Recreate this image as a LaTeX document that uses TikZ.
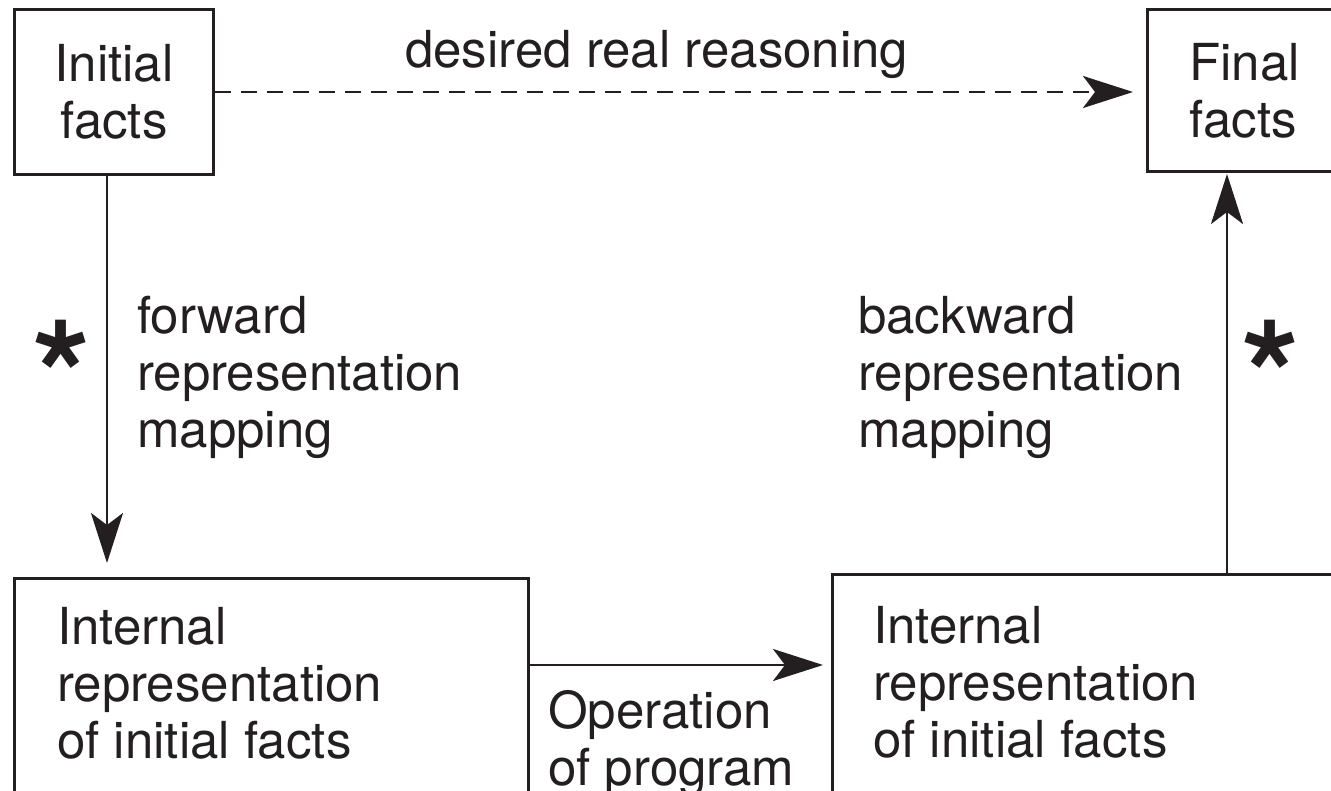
\documentclass[tikz,border=0pt]{standalone}
\usepackage{fontspec}
\setmainfont{TeX Gyre Heros}
\usetikzlibrary{arrows.meta}
\definecolor{ink}{HTML}{231F20}
\begin{document}
\begin{tikzpicture}[x=1pt,y=-1pt,
  boxline/.style={draw=ink, line width=3pt, inner sep=0pt},
  lbl/.style={font=\fontsize{51}{57}\selectfont, text=ink, inner sep=0pt, align=left},
  starlbl/.style={font=\fontsize{150}{150}\bfseries, text=ink, inner sep=0pt},
  tip/.style={-{Stealth[length=50pt,width=32pt,inset=12pt]}},
  conn/.style={draw=ink, line width=2.6pt, tip},
  dashconn/.style={draw=ink, line width=2.6pt, dash pattern=on 16pt off 10pt, tip}]
\useasboundingbox (0,0) rectangle (1331,791);
\clip (0,0) rectangle (1331,791);
\fill[white] (0,0) rectangle (1331,791);

% helper coordinates
\coordinate (lx) at (107,0);
\coordinate (fx) at (1227,0);
\coordinate (hy) at (0,665);

% boxes
\node[boxline, lbl, align=center, minimum width=199, minimum height=165, anchor=north west] (init) at (13,8) {Initial\\facts};
\node[boxline, lbl, anchor=north west, text width=130, inner xsep=42, inner ysep=0, minimum height=162] (final) at (1146,8) {Final\\facts};
\node[boxline, minimum width=514, minimum height=260, anchor=north west] (irl) at (13,577) {};
\node[boxline, minimum width=530, minimum height=260, anchor=north west] (irr) at (831,573) {};

% box texts
\node[lbl, anchor=north west] (irlt) at (57,607) {Internal\\representation\\of initial facts};
\node[lbl, anchor=north west] (irrt) at (873,606) {Internal\\representation\\of initial facts};

% labels
\node[lbl, anchor=base west] (des) at (405,68) {desired real reasoning};
\node[lbl, anchor=north west] (fwd) at (137,296) {forward\\representation\\mapping};
\node[lbl, anchor=north west] (bwd) at (858,296) {backward\\representation\\mapping};
\node[lbl, anchor=north west] (op) at (548,690) {Operation\\of program};
\node[starlbl, anchor=north] (s1) at (62,320) {*};
\node[starlbl, anchor=north] (s2) at (1271,320) {*};

% connectors
\draw[dashconn, shorten >=13pt] (init.east) -- (init.east -| final.west);
\draw[conn, shorten >=14pt] (init.south -| lx) -- (irl.north -| lx);
\draw[conn, shorten >=1pt] (irr.north -| fx) -- (final.south -| fx);
\draw[conn, shorten >=8pt] (irl.east |- hy) -- (irr.west |- hy);
\end{tikzpicture}
\end{document}
